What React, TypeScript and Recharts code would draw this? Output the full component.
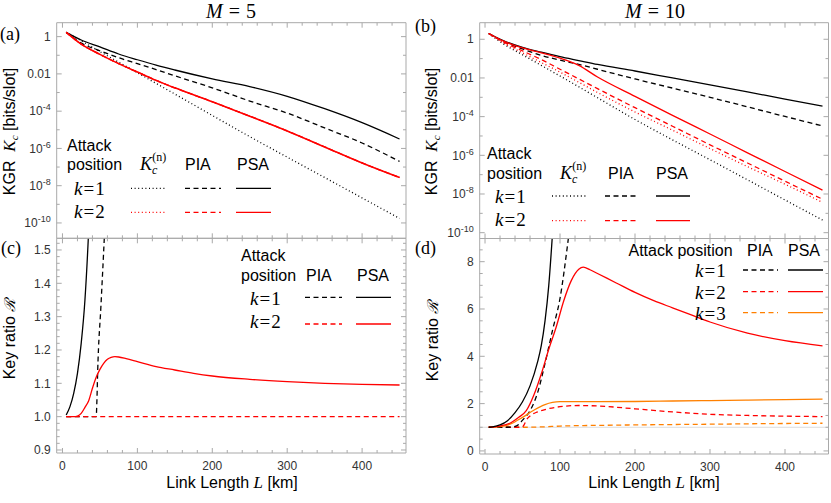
import React from 'react';
import { LineChart, Line, XAxis, YAxis, ReferenceLine } from 'recharts';

// ---- data (L in km) ----
const L_GRID = [5, 25, 50, 75, 100, 125, 150, 200, 250, 300, 350, 400, 450];

// (a) M = 5, key generation rate [bits/slot]
const A_KN_K1 = [1.7, 0.6, 0.158, 0.0427, 0.0115, 3.1e-3, 8.3e-4, 5.9e-5, 4.3e-6, 3.4e-7, 2.75e-8, 2.2e-9, 1.74e-10];
const A_PIA_K1 = [1.7, 0.447, 0.174, 0.0741, 0.0355, 0.017, 7.9e-3, 1.78e-3, 3.5e-4, 7.9e-5, 1.26e-5, 1.95e-6, 2.0e-7];
const A_PSA_K1 = [1.7, 0.661, 0.282, 0.117, 0.0575, 0.0295, 0.0162, 5.4e-3, 2.09e-3, 6.3e-4, 1.35e-4, 2.4e-5, 3.2e-6];
const A_K2 = [1.7, 0.398, 0.112, 0.0355, 0.0126, 4.5e-3, 1.78e-3, 3.2e-4, 5.4e-5, 8.7e-6, 1.2e-6, 1.66e-7, 2.75e-8];

// (b) M = 10
const B_KN_K1 = [2.0, 0.562, 0.158, 0.0447, 0.0126, 3.5e-3, 9.5e-4, 7.1e-5, 6.3e-6, 5.9e-7, 5.4e-8, 4.9e-9, 4.5e-10];
const B_PIA_K1 = [2.0, 0.759, 0.316, 0.148, 0.0832, 0.0501, 0.0282, 8.9e-3, 3.0e-3, 1.0e-3, 3.2e-4, 1.02e-4, 3.3e-5];
const B_PSA_K1 = [2.0, 0.832, 0.38, 0.214, 0.126, 0.0794, 0.0501, 0.0229, 0.01, 4.4e-3, 1.9e-3, 8.1e-4, 3.5e-4];
const B_KN_K2 = [2.0, 0.631, 0.2, 0.0631, 0.02, 6.0e-3, 1.78e-3, 1.74e-4, 2.0e-5, 2.24e-6, 2.6e-7, 3.2e-8, 3.7e-9];
const B_PIA_K2 = [2.0, 0.708, 0.251, 0.0891, 0.0282, 8.9e-3, 2.8e-3, 2.9e-4, 3.2e-5, 3.5e-6, 4.0e-7, 4.6e-8, 5.4e-9];
const B_PSA_K2 = [2.0, 0.794, 0.355, 0.2, 0.105, 0.0447, 0.0112, 1.12e-3, 1.17e-4, 1.26e-5, 1.35e-6, 1.45e-7, 1.58e-8];

// (c) M = 5, key ratio
const C_PSA_K1_L = [5, 10, 15, 20, 25, 30, 35, 40];
const C_PSA_K1 = [1.005, 1.03, 1.07, 1.13, 1.22, 1.35, 1.56, 1.85];
const C_PIA_K1_L = [5, 20, 40, 45, 46, 47, 51.4, 55.8, 60];
const C_PIA_K1 = [1.0, 1.0, 1.0, 1.0, 1.05, 1.135, 1.334, 1.534, 1.75];
const C_PIA_K2_L = [5, 100, 200, 300, 450];
const C_PIA_K2 = [1.0, 1.0, 1.0, 1.0, 1.0];
const C_PSA_K2_L = [5, 15, 20, 25, 30, 35, 40, 45, 50, 55, 60, 65, 70, 75, 85, 100, 125, 150, 175, 200, 250, 300, 350, 400, 450];
const C_PSA_K2 = [1.0, 1.0, 1.002, 1.01, 1.028, 1.048, 1.085, 1.118, 1.142, 1.16, 1.172, 1.178, 1.18, 1.179, 1.174, 1.165, 1.15, 1.14, 1.13, 1.122, 1.112, 1.105, 1.1, 1.097, 1.095];

// (d) M = 10, key ratio
const D_PSA_K1_L = [5, 10, 20, 30, 40, 50, 60, 70, 75, 80, 85, 90];
const D_PSA_K1 = [1.0, 1.02, 1.1, 1.28, 1.62, 2.08, 2.75, 3.75, 4.45, 5.5, 7.0, 9.2];
const D_PIA_K1_L = [5, 30, 38, 45, 50, 60, 70, 80, 90, 100, 110, 115];
const D_PIA_K1 = [1.0, 1.0, 1.02, 1.12, 1.3, 1.7, 2.45, 3.7, 5.1, 6.45, 8.7, 10];
const D_PSA_K2_L = [5, 20, 35, 45, 55, 65, 75, 85, 95, 105, 115, 125, 131, 140, 150, 175, 200, 225, 250, 275, 300, 350, 400, 450];
const D_PSA_K2 = [1.0, 1.05, 1.2, 1.42, 1.7, 2.35, 3.25, 4.3, 5.25, 6.35, 7.2, 7.68, 7.77, 7.66, 7.5, 7.1, 6.7, 6.35, 6.05, 5.75, 5.45, 4.98, 4.66, 4.44];
const D_PIA_K2_L = [5, 45, 50, 52, 55, 60, 70, 80, 100, 125, 150, 200, 250, 300, 350, 400, 450];
const D_PIA_K2 = [1.0, 1.0, 1.02, 1.1, 1.3, 1.48, 1.65, 1.75, 1.87, 1.92, 1.9, 1.78, 1.65, 1.55, 1.5, 1.47, 1.45];
const D_PSA_K3_L = [5, 20, 35, 50, 65, 80, 90, 100, 150, 200, 250, 300, 350, 400, 450];
const D_PSA_K3 = [1.0, 1.03, 1.15, 1.42, 1.72, 1.96, 2.05, 2.08, 2.08, 2.09, 2.11, 2.13, 2.15, 2.17, 2.19];
const D_PIA_K3_L = [5, 50, 80, 100, 150, 200, 300, 400, 450];
const D_PIA_K3 = [1.0, 1.0, 1.02, 1.05, 1.08, 1.1, 1.13, 1.16, 1.17];

// ---- ticks ----
const steps = (a: number, b: number, s: number) => {
  const out: number[] = [];
  for (let v = a; v <= b + 1e-9; v += s) out.push(Math.round(v * 1000) / 1000);
  return out;
};
const X_TICKS = steps(0, 440, 20);
const LOG_TICKS = [1, 0.1, 0.01, 1e-3, 1e-4, 1e-5, 1e-6, 1e-7, 1e-8, 1e-9, 1e-10];
const LOG_MAJOR = [1, 0.01, 1e-4, 1e-6, 1e-8, 1e-10];
const LOG_MAJOR_BASE = ['1', '0.01', '10', '10', '10', '10'];
const LOG_MAJOR_EXP = ['', '', '-4', '-6', '-8', '-10'];
const C_TICKS = steps(0.9, 1.52, 0.02);
const D_TICKS = steps(0, 8.5, 0.5);

const FRAME = '#a9a9a9';
const TICK_TEXT = '#333';
const SANS = '"Liberation Sans", Arial, sans-serif';
const SERIF = '"Liberation Serif", "Times New Roman", serif';
const BLACK = '#000';
const RED = '#ff0000';
const ORANGE = '#ff8000';
const DASH = '5 3.5';
const DOT = '1 2.6';

const rows = (L: number[], v: number[]) => L.map((l, i) => ({ L: l, v: v[i] }));

const logIndex = (v: number) => LOG_MAJOR.findIndex((m) => Math.abs(Math.log10(v) - Math.log10(m)) < 0.01);

function xTick(side: 'bottom' | 'top', labels: boolean) {
  return (p: any) => {
    const v = p.payload.value;
    const major = Math.abs(v % 100) < 1e-6;
    const len = major ? 5 : 3;
    const dir = side === 'bottom' ? -1 : 1;
    return (
      <g>
        <line x1={p.x} x2={p.x} y1={p.y} y2={p.y + dir * len} stroke={FRAME} />
        {labels && major ? (
          <text x={p.x} y={p.y + 17} textAnchor="middle" fontFamily={SANS} fontSize={12} fill={TICK_TEXT}>
            {v}
          </text>
        ) : null}
      </g>
    );
  };
}

type YKind = 'log' | 'c' | 'd';

function yTick(side: 'left' | 'right', kind: YKind) {
  return (p: any) => {
    const v = p.payload.value;
    let major = false;
    let label: React.ReactNode = null;
    if (kind === 'log') {
      const i = logIndex(v);
      major = i >= 0;
      if (major) {
        label = (
          <>
            <tspan>{LOG_MAJOR_BASE[i]}</tspan>
            {LOG_MAJOR_EXP[i] ? (
              <tspan fontSize={9} dy={-5}>
                {LOG_MAJOR_EXP[i]}
              </tspan>
            ) : null}
          </>
        );
      }
    } else if (kind === 'c') {
      major = Math.abs(Math.round(v * 10) - v * 10) < 1e-6;
      label = v.toFixed(1);
    } else {
      major = Math.abs(v % 2) < 1e-6;
      label = String(v);
    }
    const len = major ? 5 : 3;
    const dir = side === 'left' ? 1 : -1;
    return (
      <g>
        <line x1={p.x} x2={p.x + dir * len} y1={p.y} y2={p.y} stroke={FRAME} />
        {side === 'left' && major ? (
          <text x={p.x - 6} y={p.y + 4.2} textAnchor="end" fontFamily={SANS} fontSize={12} fill={TICK_TEXT}>
            {label}
          </text>
        ) : null}
      </g>
    );
  };
}

type Series = { L: number[]; v: number[]; color: string; dash?: string; width?: number };

type PanelProps = {
  box: [number, number, number, number];
  plot: { top: number; right: number; bottom: number; left: number };
  xDomain: [number, number];
  yDomain: [number, number];
  kind: YKind;
  yTicks: number[];
  xLabels: boolean;
  series: Series[];
  oneLine?: boolean;
};

// every axis takes 1px of room (an axis of size 0 is not drawn), so the margins are 1px smaller
function Panel({ box, plot, xDomain, yDomain, kind, yTicks, xLabels, series, oneLine }: PanelProps) {
  const scale = kind === 'log' ? 'log' : 'linear';
  const margin = { top: plot.top - 1, right: plot.right - 1, bottom: plot.bottom - 1, left: plot.left - 1 };
  return (
    <div style={{ position: 'absolute', left: box[0], top: box[1] }}>
      <LineChart width={box[2]} height={box[3]} margin={margin}>
        <XAxis xAxisId="b" type="number" dataKey="L" domain={xDomain} allowDataOverflow ticks={X_TICKS} interval={0}
          height={1} tickSize={0} tickMargin={0} tickLine={false} axisLine={{ stroke: FRAME }} tick={xTick('bottom', xLabels)} />
        <XAxis xAxisId="t" orientation="top" type="number" dataKey="L" domain={xDomain} allowDataOverflow ticks={X_TICKS} interval={0}
          height={1} tickSize={0} tickMargin={0} tickLine={false} axisLine={{ stroke: FRAME }} tick={xTick('top', false)} />
        <YAxis yAxisId="l" type="number" scale={scale} domain={yDomain} allowDataOverflow ticks={yTicks} interval={0}
          width={1} tickSize={0} tickMargin={0} tickLine={false} axisLine={{ stroke: FRAME }} tick={yTick('left', kind)} />
        <YAxis yAxisId="r" orientation="right" type="number" scale={scale} domain={yDomain} allowDataOverflow ticks={yTicks} interval={0}
          width={1} tickSize={0} tickMargin={0} tickLine={false} axisLine={{ stroke: FRAME }} tick={yTick('right', kind)} />
        {oneLine ? <ReferenceLine xAxisId="b" yAxisId="l" y={1} stroke="#dcdcdc" /> : null}
        {series.map((s, i) => (
          <Line key={i} xAxisId="b" yAxisId="l" data={rows(s.L, s.v)} dataKey="v" type="monotone" stroke={s.color}
            strokeDasharray={s.dash} strokeWidth={s.width ?? 1.3} dot={false} activeDot={false} isAnimationActive={false} />
        ))}
      </LineChart>
    </div>
  );
}

const K = ({ x, y, n }: { x: number; y: number; n: number }) => (
  <text x={x} y={y} fontFamily={SERIF} fontSize={19}>
    <tspan fontStyle="italic">k</tspan>
    <tspan dx={1}>=</tspan>
    <tspan dx={1}>{n}</tspan>
  </text>
);

const Sample = ({ x1, x2, y, color, dash }: { x1: number; x2: number; y: number; color: string; dash?: string }) => (
  <line x1={x1} x2={x2} y1={y} y2={y} stroke={color} strokeWidth={1.3} strokeDasharray={dash} />
);

const Txt = ({ x, y, children }: { x: number; y: number; children: React.ReactNode }) => (
  <text x={x} y={y} fontFamily={SANS} fontSize={16}>
    {children}
  </text>
);

const KnHead = ({ x, y }: { x: number; y: number }) => (
  <text x={x} y={y} fontFamily={SERIF} fontSize={18}>
    <tspan fontStyle="italic">K</tspan>
    <tspan fontStyle="italic" fontSize={12} dy={4}>c</tspan>
    <tspan fontSize={12} dx={-5} dy={-13}>(n)</tspan>
  </text>
);

function Overlay() {
  return (
    <svg width={831} height={503} style={{ position: 'absolute', left: 0, top: 0, pointerEvents: 'none' }}>
      {/* titles and panel letters */}
      <text x={231} y={18} textAnchor="middle" fontFamily={SERIF} fontSize={20}>
        <tspan fontStyle="italic">M</tspan>
        <tspan dx={6}>=</tspan>
        <tspan dx={6}>5</tspan>
      </text>
      <text x={655} y={18} textAnchor="middle" fontFamily={SERIF} fontSize={20}>
        <tspan fontStyle="italic">M</tspan>
        <tspan dx={6}>=</tspan>
        <tspan dx={6}>10</tspan>
      </text>
      <text x={0} y={39.5} fontFamily={SERIF} fontSize={18}>(a)</text>
      <text x={415} y={32} fontFamily={SERIF} fontSize={18}>(b)</text>
      <text x={1} y={254} fontFamily={SERIF} fontSize={18}>(c)</text>
      <text x={415} y={254} fontFamily={SERIF} fontSize={18}>(d)</text>

      {/* axis titles */}
      {[[15, 131.5], [437, 131.5]].map(([x, y], i) => (
        <text key={'kgr' + i} transform={`translate(${x},${y}) rotate(-90)`} textAnchor="middle" fontFamily={SANS} fontSize={16}>
          {'KGR\u00a0\u00a0'}
          <tspan fontFamily={SERIF} fontStyle="italic" fontSize={17}>K</tspan>
          <tspan fontFamily={SERIF} fontStyle="italic" fontSize={11} dy={3}>c</tspan>
          <tspan dy={-3}>{'\u00a0[bits/slot]'}</tspan>
        </text>
      ))}
      {[[15, 339], [438, 341]].map(([x, y], i) => (
        <text key={'kr' + i} transform={`translate(${x},${y}) rotate(-90)`} textAnchor="middle" fontFamily={SANS} fontSize={16}>
          {'Key ratio\u00a0'}
          <tspan fontFamily={'"DejaVu Serif", serif'} fontStyle="italic" fontSize={15}>ℛ</tspan>
        </text>
      ))}
      {[232, 654].map((x) => (
        <text key={'xl' + x} x={x} y={488} textAnchor="middle" fontFamily={SANS} fontSize={16}>
          {'Link Length\u00a0'}
          <tspan fontFamily={SERIF} fontStyle="italic" fontSize={17}>L</tspan>
          {'\u00a0[km]'}
        </text>
      ))}

      {/* legend (a) */}
      <Txt x={67} y={150.5}>Attack</Txt>
      <Txt x={67} y={170}>position</Txt>
      <KnHead x={140} y={170} />
      <Txt x={185} y={170}>PIA</Txt>
      <Txt x={237} y={170}>PSA</Txt>
      <K x={74} y={195} n={1} />
      <K x={74} y={218} n={2} />
      <Sample x1={131} x2={167} y={188.3} color={BLACK} dash={DOT} />
      <Sample x1={185} x2={221} y={188.3} color={BLACK} dash={DASH} />
      <Sample x1={236} x2={271} y={188.3} color={BLACK} />
      <Sample x1={131} x2={167} y={212.3} color={RED} dash={DOT} />
      <Sample x1={185} x2={221} y={212.3} color={RED} dash={DASH} />
      <Sample x1={236} x2={271} y={212.3} color={RED} />

      {/* legend (b) */}
      <Txt x={487} y={159.3}>Attack</Txt>
      <Txt x={487} y={179}>position</Txt>
      <KnHead x={560} y={179} />
      <Txt x={608} y={179}>PIA</Txt>
      <Txt x={656} y={179}>PSA</Txt>
      <K x={495} y={202.5} n={1} />
      <K x={495} y={226} n={2} />
      <Sample x1={552} x2={587} y={196} color={BLACK} dash={DOT} />
      <Sample x1={605} x2={639} y={196} color={BLACK} dash={DASH} />
      <Sample x1={656} x2={690} y={196} color={BLACK} />
      <Sample x1={552} x2={587} y={220.7} color={RED} dash={DOT} />
      <Sample x1={605} x2={639} y={220.7} color={RED} dash={DASH} />
      <Sample x1={656} x2={690} y={220.7} color={RED} />

      {/* legend (c) */}
      <Txt x={241} y={260.7}>Attack</Txt>
      <Txt x={241} y={280.7}>position</Txt>
      <Txt x={306} y={280.7}>PIA</Txt>
      <Txt x={357} y={280.7}>PSA</Txt>
      <K x={250} y={305} n={1} />
      <K x={250} y={328} n={2} />
      <Sample x1={305} x2={342} y={297.3} color={BLACK} dash={DASH} />
      <Sample x1={356} x2={391} y={297.3} color={BLACK} />
      <Sample x1={305} x2={342} y={324} color={RED} dash={DASH} />
      <Sample x1={356} x2={391} y={324} color={RED} />

      {/* legend (d) */}
      <Txt x={628.5} y={256}>Attack position</Txt>
      <Txt x={747} y={256}>PIA</Txt>
      <Txt x={788} y={256}>PSA</Txt>
      <K x={695} y={277} n={1} />
      <K x={695} y={299} n={2} />
      <K x={695} y={320} n={3} />
      <Sample x1={743} x2={778} y={270} color={BLACK} dash={DASH} />
      <Sample x1={788} x2={823} y={270} color={BLACK} />
      <Sample x1={743} x2={778} y={291.7} color={RED} dash={DASH} />
      <Sample x1={788} x2={823} y={291.7} color={RED} />
      <Sample x1={743} x2={778} y={312.7} color={ORANGE} dash={DASH} />
      <Sample x1={788} x2={823} y={312.7} color={ORANGE} />
    </svg>
  );
}

export default function App() {
  const leftX: [number, number] = [-7.7, 458.6];
  const rightX: [number, number] = [-7.1, 458];
  return (
    <div style={{ position: 'absolute', left: 0, top: 0, width: 831, height: 503, background: '#fff', overflow: 'hidden' }}>
      <Panel
        box={[0, 0, 415, 240]}
        plot={{ top: 22.7, right: 9, bottom: 1.7, left: 56.7 }}
        xDomain={leftX}
        yDomain={[1.5e-11, 5.6]}
        kind="log"
        yTicks={LOG_TICKS}
        xLabels={false}
        series={[
          { L: L_GRID, v: A_KN_K1, color: BLACK, dash: DOT },
          { L: L_GRID, v: A_PIA_K1, color: BLACK, dash: DASH },
          { L: L_GRID, v: A_PSA_K1, color: BLACK },
          { L: L_GRID, v: A_K2, color: RED, dash: DOT },
          { L: L_GRID, v: A_K2, color: RED, dash: DASH },
          { L: L_GRID, v: A_K2, color: RED, width: 1.6 },
        ]}
      />
      <Panel
        box={[415, 0, 416, 242]}
        plot={{ top: 22.7, right: 2.5, bottom: 3.5, left: 64.7 }}
        xDomain={rightX}
        yDomain={[5e-11, 7.2]}
        kind="log"
        yTicks={LOG_TICKS}
        xLabels={false}
        series={[
          { L: L_GRID, v: B_KN_K1, color: BLACK, dash: DOT },
          { L: L_GRID, v: B_PIA_K1, color: BLACK, dash: DASH },
          { L: L_GRID, v: B_PSA_K1, color: BLACK },
          { L: L_GRID, v: B_KN_K2, color: RED, dash: DOT },
          { L: L_GRID, v: B_PIA_K2, color: RED, dash: DASH },
          { L: L_GRID, v: B_PSA_K2, color: RED },
        ]}
      />
      <Panel
        box={[0, 236, 415, 267]}
        plot={{ top: 2.3, right: 9, bottom: 50, left: 56.7 }}
        xDomain={leftX}
        yDomain={[0.891, 1.535]}
        kind="c"
        yTicks={C_TICKS}
        xLabels
        series={[
          { L: C_PIA_K1_L, v: C_PIA_K1, color: BLACK, dash: DASH },
          { L: C_PSA_K1_L, v: C_PSA_K1, color: BLACK },
          { L: C_PIA_K2_L, v: C_PIA_K2, color: RED, dash: DASH },
          { L: C_PSA_K2_L, v: C_PSA_K2, color: RED },
        ]}
      />
      <Panel
        box={[415, 236, 416, 267]}
        plot={{ top: 2.5, right: 2.5, bottom: 49, left: 64.7 }}
        xDomain={rightX}
        yDomain={[-0.13, 8.98]}
        kind="d"
        yTicks={D_TICKS}
        xLabels
        oneLine
        series={[
          { L: D_PIA_K3_L, v: D_PIA_K3, color: ORANGE, dash: DASH },
          { L: D_PIA_K2_L, v: D_PIA_K2, color: RED, dash: DASH },
          { L: D_PIA_K1_L, v: D_PIA_K1, color: BLACK, dash: DASH },
          { L: D_PSA_K3_L, v: D_PSA_K3, color: ORANGE },
          { L: D_PSA_K2_L, v: D_PSA_K2, color: RED },
          { L: D_PSA_K1_L, v: D_PSA_K1, color: BLACK },
        ]}
      />
      <Overlay />
    </div>
  );
}
